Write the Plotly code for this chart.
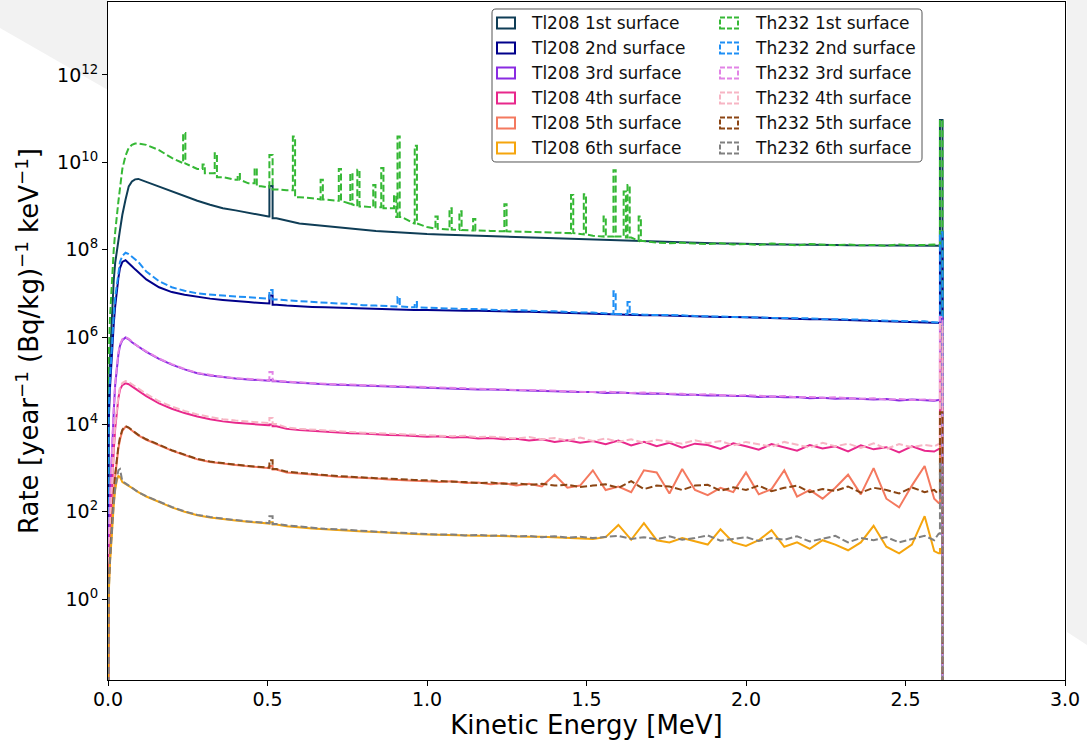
import numpy as np
import plotly.graph_objects as go

# ---------------------------------------------------------------------------
# Energy binning [MeV]: start edge of every bin, last entry closes the last bin
# ---------------------------------------------------------------------------
low_edges = [0.000, 0.004, 0.008, 0.012, 0.016, 0.020, 0.025, 0.030, 0.035,
             0.040, 0.050, 0.060, 0.070, 0.080, 0.090]
mid_edges = [0.10, 0.14, 0.18, 0.22, 0.26, 0.30, 0.34, 0.38, 0.42, 0.46]
annihilation_edges = [0.500, 0.506, 0.516]
high_edges = list(np.round(0.54 + 0.04 * np.arange(51), 3))
end_edges = [2.580, 2.600, 2.608, 2.616]
energy_edges = np.array(low_edges + mid_edges + annihilation_edges + high_edges + end_edges)

# narrow bins holding the 511 keV annihilation line and the 2.614 MeV endpoint
SPIKE_BINS = (26, 81)

# ---------------------------------------------------------------------------
# Rates per bin, stored as log10(rate [1/year/(Bq/kg)/keV]).
# Layout of each list: 15 low | 10 mid | 3 around 511 keV | 51 high | 3 end
# ---------------------------------------------------------------------------
tl208_1st = [4.5, 5.5, 6.2, 6.8, 7.3, 7.7, 8.0, 8.2, 8.45, 8.8, 9.15, 9.45, 9.56, 9.61, 9.62,
             9.55, 9.45, 9.33, 9.23, 9.12, 9.03, 8.95, 8.90, 8.84, 8.78,
             8.76, 9.46, 8.72,
             8.66, 8.60, 8.57, 8.54, 8.52, 8.49, 8.46, 8.43, 8.41, 8.39,
             8.37, 8.36, 8.35, 8.34, 8.33, 8.33, 8.32, 8.31, 8.30, 8.29,
             8.28, 8.27, 8.26, 8.25, 8.24, 8.22, 8.21, 8.20, 8.19, 8.18,
             8.17, 8.16, 8.15, 8.15, 8.14, 8.14, 8.13, 8.13, 8.12, 8.12,
             8.12, 8.11, 8.11, 8.11, 8.10, 8.10, 8.10, 8.10, 8.09, 8.09,
             8.09,
             8.09, 8.09, 10.97]

tl208_2nd = [4.0, 4.8, 5.4, 5.9, 6.3, 6.7, 7.05, 7.35, 7.58, 7.72, 7.76, 7.70, 7.62, 7.55, 7.48,
             7.32, 7.14, 7.03, 6.97, 6.92, 6.88, 6.85, 6.82, 6.80, 6.78,
             6.77, 6.95, 6.74,
             6.72, 6.70, 6.69, 6.68, 6.67, 6.66, 6.65, 6.64, 6.63, 6.63,
             6.62, 6.62, 6.61, 6.61, 6.60, 6.60, 6.59, 6.59, 6.58, 6.58,
             6.57, 6.56, 6.55, 6.54, 6.53, 6.52, 6.52, 6.51, 6.50, 6.50,
             6.49, 6.48, 6.48, 6.47, 6.46, 6.46, 6.45, 6.44, 6.44, 6.43,
             6.42, 6.41, 6.41, 6.40, 6.39, 6.38, 6.38, 6.37, 6.36, 6.35,
             6.34,
             6.33, 6.32, 8.40]

tl208_3rd = [1.2, 2.2, 3.0, 3.6, 4.3, 4.9, 5.3, 5.6, 5.8, 5.93, 5.99, 5.95, 5.88, 5.83, 5.77,
             5.66, 5.50, 5.37, 5.26, 5.17, 5.12, 5.08, 5.05, 5.03, 5.01,
             5.00, 5.02, 4.99,
             4.97, 4.95, 4.93, 4.92, 4.91, 4.90, 4.89, 4.88, 4.87, 4.86,
             4.85, 4.83, 4.83, 4.82, 4.81, 4.80, 4.80, 4.79, 4.78, 4.78,
             4.77, 4.76, 4.75, 4.74, 4.74, 4.72, 4.73, 4.71, 4.70, 4.71,
             4.69, 4.68, 4.68, 4.66, 4.67, 4.65, 4.65, 4.63, 4.64, 4.62,
             4.63, 4.60, 4.61, 4.59, 4.60, 4.58, 4.57, 4.58, 4.55, 4.57,
             4.55,
             4.54, 4.56, 6.46]

tl208_4th = [0.6, 1.4, 2.2, 2.9, 3.4, 3.9, 4.3, 4.6, 4.8, 4.9, 4.94, 4.92, 4.87, 4.82, 4.77,
             4.65, 4.48, 4.36, 4.26, 4.18, 4.12, 4.07, 4.04, 4.01, 3.99,
             3.98, 4.00, 3.96,
             3.90, 3.87, 3.85, 3.83, 3.81, 3.80, 3.79, 3.77, 3.76, 3.75,
             3.74, 3.72, 3.73, 3.70, 3.71, 3.68, 3.69, 3.66, 3.67, 3.63,
             3.66, 3.60, 3.64, 3.58, 3.62, 3.55, 3.63, 3.52, 3.60, 3.50,
             3.58, 3.47, 3.56, 3.53, 3.44, 3.57, 3.50, 3.42, 3.55, 3.48,
             3.40, 3.53, 3.45, 3.50, 3.38, 3.52, 3.43, 3.48, 3.36, 3.50,
             3.40,
             3.38, 3.45, 5.50]

tl208_5th = [0.3, 0.9, 1.5, 2.0, 2.4, 2.8, 3.15, 3.45, 3.65, 3.85, 3.95, 3.92, 3.86, 3.80, 3.75,
             3.65, 3.52, 3.40, 3.30, 3.20, 3.14, 3.10, 3.07, 3.04, 3.01,
             3.00, 3.05, 2.97,
             2.90, 2.88, 2.85, 2.83, 2.80, 2.79, 2.77, 2.76, 2.74, 2.72,
             2.71, 2.70, 2.68, 2.70, 2.66, 2.67, 2.63, 2.66, 2.60, 2.64,
             2.58, 2.85, 2.55, 2.60, 2.95, 2.50, 2.58, 2.45, 2.95, 2.90,
             2.42, 2.98, 2.50, 2.38, 2.55, 2.45, 2.90, 2.40, 2.52, 2.95,
             2.35, 2.50, 2.30, 2.55, 2.85, 2.40, 3.00, 2.30, 2.10, 2.60,
             3.05,
             2.30, 2.20, 4.20]

tl208_6th = [0.05, 0.8, 1.3, 1.75, 2.15, 2.5, 2.72, 2.82, 2.8, 2.68, 2.64, 2.6, 2.55, 2.5, 2.45,
             2.35, 2.22, 2.10, 2.00, 1.92, 1.87, 1.83, 1.80, 1.77, 1.75,
             1.73, 1.76, 1.71,
             1.67, 1.64, 1.62, 1.60, 1.58, 1.57, 1.55, 1.54, 1.52, 1.50,
             1.49, 1.48, 1.47, 1.47, 1.46, 1.45, 1.45, 1.44, 1.44, 1.43,
             1.43, 1.42, 1.41, 1.40, 1.38, 1.42, 1.70, 1.36, 1.74, 1.35,
             1.30, 1.40, 1.32, 1.25, 1.60, 1.30, 1.22, 1.35, 1.58, 1.20,
             1.30, 1.15, 1.35, 1.25, 1.12, 1.30, 1.68, 1.20, 1.05, 1.25,
             1.90,
             1.10, 1.05, 1.15]

th232_1st = [5.5, 6.4, 7.0, 7.6, 8.0, 8.4, 8.8, 9.1, 9.4, 9.85, 10.15, 10.33, 10.40, 10.43, 10.43,
             10.40, 10.28, 10.10, 9.98, 9.85, 9.75, 9.66, 9.60, 9.52, 9.45,
             9.42, 10.17, 9.38,
             9.36, 9.20, 9.18, 9.15, 9.12, 9.05, 8.99, 8.97, 8.95, 8.75,
             8.60, 8.52, 8.48, 8.46, 8.45, 8.44, 8.43, 8.42, 8.41, 8.40,
             8.40, 8.39, 8.38, 8.35, 8.32, 8.30, 8.30, 8.28, 8.20, 8.16,
             8.15, 8.16, 8.14, 8.13, 8.15, 8.12, 8.13, 8.11, 8.14, 8.12,
             8.10, 8.13, 8.11, 8.10, 8.12, 8.10, 8.11, 8.09, 8.12, 8.10,
             8.11,
             8.12, 8.10, 10.97]

th232_2nd = [4.3, 5.0, 5.6, 6.1, 6.5, 6.9, 7.2, 7.5, 7.72, 7.86, 7.93, 7.90, 7.84, 7.78, 7.72,
             7.50, 7.28, 7.14, 7.06, 7.00, 6.97, 6.95, 6.93, 6.91, 6.89,
             6.88, 7.08, 6.86,
             6.84, 6.82, 6.81, 6.78, 6.77, 6.76, 6.73, 6.72, 6.71, 6.70,
             6.68, 6.67, 6.67, 6.65, 6.64, 6.64, 6.62, 6.61, 6.62, 6.60,
             6.59, 6.59, 6.57, 6.56, 6.56, 6.54, 6.53, 6.53, 6.51, 6.51,
             6.50, 6.50, 6.48, 6.48, 6.47, 6.46, 6.46, 6.45, 6.44, 6.44,
             6.43, 6.43, 6.41, 6.41, 6.40, 6.40, 6.38, 6.38, 6.37, 6.36,
             6.36,
             6.34, 6.33, 8.40]

th232_3rd = [1.3, 2.3, 3.1, 3.7, 4.35, 4.95, 5.35, 5.65, 5.83, 5.95, 6.0, 5.96, 5.9, 5.84, 5.78,
             5.67, 5.51, 5.38, 5.27, 5.18, 5.13, 5.09, 5.06, 5.04, 5.02,
             5.01, 5.20, 5.00,
             4.98, 4.96, 4.95, 4.93, 4.92, 4.91, 4.90, 4.89, 4.88, 4.87,
             4.86, 4.85, 4.84, 4.83, 4.82, 4.82, 4.81, 4.80, 4.79, 4.79,
             4.78, 4.77, 4.76, 4.76, 4.74, 4.75, 4.73, 4.72, 4.73, 4.71,
             4.70, 4.70, 4.68, 4.69, 4.67, 4.66, 4.67, 4.65, 4.64, 4.65,
             4.62, 4.63, 4.61, 4.62, 4.60, 4.59, 4.60, 4.57, 4.58, 4.56,
             4.57,
             4.56, 4.55, 6.46]

th232_4th = [0.7, 1.5, 2.3, 3.0, 3.5, 4.0, 4.35, 4.65, 4.85, 4.95, 4.99, 4.97, 4.92, 4.87, 4.82,
             4.70, 4.53, 4.41, 4.31, 4.23, 4.17, 4.12, 4.09, 4.06, 4.04,
             4.03, 4.15, 4.01,
             3.93, 3.90, 3.88, 3.86, 3.84, 3.83, 3.81, 3.80, 3.79, 3.77,
             3.77, 3.75, 3.74, 3.73, 3.74, 3.71, 3.72, 3.70, 3.68, 3.71,
             3.66, 3.69, 3.63, 3.70, 3.62, 3.68, 3.60, 3.66, 3.58, 3.65,
             3.60, 3.56, 3.64, 3.57, 3.62, 3.52, 3.60, 3.55, 3.49, 3.60,
             3.53, 3.47, 3.58, 3.50, 3.56, 3.46, 3.57, 3.44, 3.55, 3.48,
             3.53,
             3.50, 3.55, 6.30]

th232_5th = [0.35, 0.95, 1.55, 2.05, 2.45, 2.85, 3.2, 3.5, 3.7, 3.88, 3.96, 3.93, 3.87, 3.81, 3.76,
             3.66, 3.53, 3.41, 3.31, 3.21, 3.15, 3.11, 3.08, 3.05, 3.02,
             3.01, 3.18, 2.98,
             2.92, 2.89, 2.87, 2.84, 2.82, 2.80, 2.79, 2.77, 2.76, 2.74,
             2.73, 2.72, 2.70, 2.69, 2.68, 2.66, 2.67, 2.64, 2.65, 2.62,
             2.64, 2.60, 2.62, 2.57, 2.60, 2.63, 2.55, 2.70, 2.52, 2.60,
             2.58, 2.50, 2.60, 2.62, 2.48, 2.56, 2.50, 2.60, 2.47, 2.55,
             2.60, 2.45, 2.52, 2.48, 2.58, 2.44, 2.55, 2.50, 2.42, 2.56,
             2.45,
             2.50, 2.40, 4.28]

th232_6th = [0.1, 0.85, 1.35, 1.8, 2.2, 2.55, 2.8, 2.95, 2.98, 2.7, 2.65, 2.6, 2.55, 2.5, 2.45,
             2.36, 2.23, 2.11, 2.01, 1.93, 1.88, 1.84, 1.81, 1.78, 1.76,
             1.74, 1.90, 1.72,
             1.69, 1.66, 1.63, 1.61, 1.60, 1.58, 1.56, 1.55, 1.53, 1.52,
             1.50, 1.49, 1.48, 1.48, 1.46, 1.47, 1.45, 1.46, 1.44, 1.45,
             1.42, 1.44, 1.41, 1.43, 1.40, 1.42, 1.45, 1.38, 1.42, 1.37,
             1.44, 1.36, 1.40, 1.46, 1.34, 1.38, 1.42, 1.33, 1.40, 1.36,
             1.44, 1.32, 1.38, 1.45, 1.30, 1.40, 1.35, 1.42, 1.30, 1.38,
             1.45,
             1.35, 1.50, 3.10]

# Gamma lines of the Th232 chain (energy [MeV], log10 rate at the line)
th232_1st_line_energy = [0.239, 0.300, 0.338, 0.410, 0.463, 0.583, 0.670, 0.727, 0.763,
                         0.785, 0.835, 0.860, 0.900, 0.911, 0.965, 1.030, 1.074, 1.105,
                         1.148, 1.246, 1.455, 1.495, 1.557, 1.588, 1.620, 1.632, 1.667]
th232_1st_line_rate = [10.67, 9.95, 10.21, 9.73, 9.87, 10.59, 9.60, 9.85, 9.75,
                       9.83, 9.48, 9.87, 9.25, 10.59, 10.38, 8.76, 8.95, 8.88,
                       8.70, 9.04, 9.25, 9.27, 8.76, 9.82, 9.33, 9.48, 8.76]
th232_2nd_line_energy = [0.911, 0.965, 1.588, 1.632]
th232_2nd_line_rate = [6.92, 6.80, 7.05, 6.80]

LINE_BIN_WIDTH = 0.007   # MeV, width of a gamma-line bin
EMPTY_RATE = 1e-4        # empty bins, below the visible range


def outline(log_rates, line_energy=(), line_rate=()):
    """Outline of a spectrum: bin centres joined by lines, narrow line bins as spikes."""
    rates = 10.0 ** np.asarray(log_rates, dtype=float)
    n = len(energy_edges) - 1
    if len(rates) != n:
        raise ValueError("series length %d != bins %d" % (len(rates), n))
    lo, hi = energy_edges[:-1], energy_edges[1:]

    def bin_value(e):
        idx = int(np.searchsorted(energy_edges, e, side="right")) - 1
        return rates[min(max(idx, 0), n - 1)]

    items = []
    for i in range(n):
        if i not in SPIKE_BINS:
            items.append((0.5 * (lo[i] + hi[i]), "pt", rates[i]))
    for i in SPIKE_BINS:
        after = rates[i + 1] if i + 1 < n else EMPTY_RATE
        items.append((lo[i], "spike", (lo[i], hi[i], rates[i], rates[i - 1], after)))
    for e0, lg in zip(line_energy, line_rate):
        a, b = e0 - LINE_BIN_WIDTH / 2, e0 + LINE_BIN_WIDTH / 2
        items.append((a, "spike", (a, b, 10.0 ** lg, bin_value(a), bin_value(b))))
    items.sort(key=lambda t: t[0])

    xs, ys = [0.0], [EMPTY_RATE]
    for pos, kind, data in items:
        if kind == "pt":
            xs.append(pos)
            ys.append(data)
        else:
            a, b, v, before, after = data
            xs += [a, a, b, b]
            ys += [before, v, v, after]
    return xs, ys


series = [
    ("Tl208 1st surface", tl208_1st, "#0f3d56", "solid", (), ()),
    ("Tl208 2nd surface", tl208_2nd, "#00008b", "solid", (), ()),
    ("Tl208 3rd surface", tl208_3rd, "#8a2be2", "solid", (), ()),
    ("Tl208 4th surface", tl208_4th, "#e8288c", "solid", (), ()),
    ("Tl208 5th surface", tl208_5th, "#f4795f", "solid", (), ()),
    ("Tl208 6th surface", tl208_6th, "#f5a50d", "solid", (), ()),
    ("Th232 1st surface", th232_1st, "#35b835", "dash", th232_1st_line_energy, th232_1st_line_rate),
    ("Th232 2nd surface", th232_2nd, "#1e8ff5", "dash", th232_2nd_line_energy, th232_2nd_line_rate),
    ("Th232 3rd surface", th232_3rd, "#e283e6", "dash", (), ()),
    ("Th232 4th surface", th232_4th, "#f7b5c4", "dash", (), ()),
    ("Th232 5th surface", th232_5th, "#8b4513", "dash", (), ()),
    ("Th232 6th surface", th232_6th, "#808080", "dash", (), ()),
]

DASH = "7px,3px"

fig = go.Figure()
for name, vals, color, style, le, lr in series:
    x, y = outline(vals, le, lr)
    fig.add_trace(go.Scatter(
        x=x, y=y, mode="lines", name=name, showlegend=False,
        line=dict(color=color, width=2, dash=DASH if style == "dash" else "solid"),
        hoverinfo="skip",
    ))

# ---------------------------------------------------------------------------
# Layout geometry (pixels)
# ---------------------------------------------------------------------------
W, H = 1087, 740
M_L, M_R, M_T, M_B = 108, 22, 2, 60
PW, PH = W - M_L - M_R, H - M_T - M_B


def fx(px):
    return (px - M_L) / PW


def fy(py):
    return (H - M_B - py) / PH


FONT = "DejaVu Sans"
shapes = []

# light grey page decorations in the margins
shapes.append(dict(
    type="path", xref="paper", yref="paper", layer="below",
    path="M %f,%f L %f,%f L %f,%f L %f,%f Z" % (fx(0), fy(0), fx(108), fy(0),
                                               fx(108), fy(90), fx(0), fy(28)),
    fillcolor="#f2f2f2", line=dict(width=0)))
shapes.append(dict(
    type="path", xref="paper", yref="paper", layer="below",
    path="M %f,%f L %f,%f L %f,%f L %f,%f Z" % (fx(1067), fy(0), fx(1087), fy(0),
                                               fx(1087), fy(645), fx(1067), fy(632)),
    fillcolor="#f2f2f2", line=dict(width=0)))

# legend frame with rounded corners
bx0, bx1, by0, by1, r = 492, 922, 9, 162, 4
frame = ("M %f,%f L %f,%f Q %f,%f %f,%f L %f,%f Q %f,%f %f,%f "
         "L %f,%f Q %f,%f %f,%f L %f,%f Q %f,%f %f,%f Z") % (
    fx(bx0 + r), fy(by0), fx(bx1 - r), fy(by0),
    fx(bx1), fy(by0), fx(bx1), fy(by0 + r),
    fx(bx1), fy(by1 - r),
    fx(bx1), fy(by1), fx(bx1 - r), fy(by1),
    fx(bx0 + r), fy(by1),
    fx(bx0), fy(by1), fx(bx0), fy(by1 - r),
    fx(bx0), fy(by0 + r),
    fx(bx0), fy(by0), fx(bx0 + r), fy(by0))
shapes.append(dict(type="path", xref="paper", yref="paper", layer="above",
                   path=frame, fillcolor="rgba(255,255,255,0.9)",
                   line=dict(color="#555555", width=1)))

annotations = []
for i, (name, vals, color, style, le, lr) in enumerate(series):
    col, row = divmod(i, 6)
    cy = 23 + 25 * row
    px0 = 497 if col == 0 else 720
    tx = 529 if col == 0 else 753
    shapes.append(dict(
        type="rect", xref="paper", yref="paper", layer="above",
        x0=fx(px0), x1=fx(px0 + 18), y0=fy(cy + 5.5), y1=fy(cy - 5.5),
        line=dict(color=color, width=2, dash="5px,2px" if style == "dash" else "solid"),
        fillcolor="rgba(0,0,0,0)"))
    annotations.append(dict(
        x=fx(tx), y=fy(cy), xref="paper", yref="paper", xanchor="left", yanchor="middle",
        text=name, showarrow=False, font=dict(family=FONT, size=17, color="#111111")))

x_ticks = [0.0, 0.5, 1.0, 1.5, 2.0, 2.5, 3.0]
y_exponents = [0, 2, 4, 6, 8, 10, 12]

fig.update_layout(
    width=W, height=H,
    margin=dict(l=M_L, r=M_R, t=M_T, b=M_B, autoexpand=False),
    paper_bgcolor="white", plot_bgcolor="white",
    font=dict(family=FONT, color="black"),
    shapes=shapes, annotations=annotations,
    showlegend=False,
    xaxis=dict(
        range=[0, 3], tickmode="array", tickvals=x_ticks,
        ticktext=["%.1f" % v for v in x_ticks],
        ticks="outside", ticklen=5, tickwidth=1, tickcolor="black",
        ticklabelstandoff=-3,
        showline=True, linecolor="black", linewidth=1, mirror=True,
        showgrid=False, zeroline=False,
        tickfont=dict(family=FONT, size=19, color="black"),
        title=dict(text="Kinetic Energy [MeV]", standoff=7,
                   font=dict(family=FONT, size=26, color="black")),
    ),
    yaxis=dict(
        type="log", range=[-1.85, 13.67], tickmode="array",
        tickvals=[10.0 ** e for e in y_exponents],
        ticktext=["10<sup>%d</sup>" % e for e in y_exponents],
        ticks="outside", ticklen=5, tickwidth=1, tickcolor="black",
        showline=True, linecolor="black", linewidth=1, mirror=True,
        showgrid=False, zeroline=False,
        tickfont=dict(family=FONT, size=19, color="black"),
        title=dict(text="Rate [year<sup>\u22121</sup> (Bq/kg)<sup>\u22121</sup> keV<sup>\u22121</sup>]",
                   standoff=10, font=dict(family=FONT, size=26, color="black")),
    ),
)

fig.write_html("out.html")
